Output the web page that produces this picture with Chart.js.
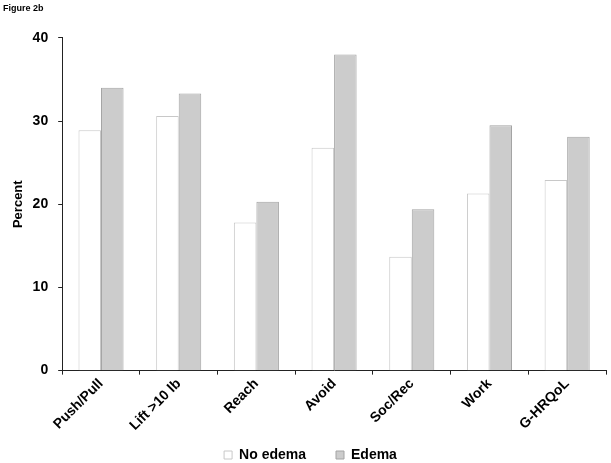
<!DOCTYPE html>
<html>
<head>
<meta charset="utf-8">
<script src="https://cdn.jsdelivr.net/npm/chart.js@4"></script>
<style>
  html, body { margin: 0; padding: 0; background: #fff; }
  #wrap { position: relative; width: 611px; height: 463px; }
</style>
</head>
<body>
<div id="wrap"><canvas id="chart" width="611" height="463"></canvas></div>
<script>
const categories = ["Push/Pull", "Lift >10 lb", "Reach", "Avoid", "Soc/Rec", "Work", "G-HRQoL"]
const noEdema = [28.9, 30.6, 17.8, 26.8, 13.7, 21.3, 22.9]
const edema = [34.0, 33.3, 20.3, 38.0, 19.4, 29.5, 28.1]
const yTicks = [0, 10, 20, 30, 40]

const FONT = "Arial, 'Liberation Sans', sans-serif"

// legend items sit far apart but close under the axis labels:
// keep the wide padding sideways, trim the box height and lift it back up
const LEGEND_PAD = 30
const legendSqueeze = {
  id: 'legendSqueeze',
  beforeInit(chart) {
    const lg = chart.legend
    const fit = lg.fit
    lg.fit = function () {
      fit.call(this)
      this.height = 26
    }
  },
  afterLayout(chart) {
    const lg = chart.legend
    lg.top -= LEGEND_PAD - 13
    lg.left += 6
    lg.right += 6
  }
}

const ctx = document.getElementById('chart')
const myChart = new Chart(ctx, {
  type: 'bar',
  data: {
    labels: categories,
    datasets: [{
      label: "No edema",
      data: noEdema,
      backgroundColor: '#ffffff',
      borderColor: '#c8c8c8',
      borderWidth: 1
    }, {
      label: "Edema",
      data: edema,
      backgroundColor: '#cccccc',
      borderColor: '#a4a4a4',
      borderWidth: 1
    }]
  },
  options: {
    responsive: false,
    animation: false,
    layout: { padding: { left: 3, right: 5, top: 2, bottom: 2 } },
    datasets: {
      bar: { categoryPercentage: 0.58, barPercentage: 1 }
    },
    scales: {
      x: {
        grid: { drawOnChartArea: false, tickLength: 4, color: '#222' },
        border: { color: '#222', width: 1 },
        ticks: {
          color: '#000',
          font: { family: FONT, size: 14, weight: 'bold' },
          maxRotation: 45,
          minRotation: 45,
          padding: 1
        }
      },
      y: {
        min: 0,
        max: 40,
        afterBuildTicks: axis => { axis.ticks = yTicks.map(v => ({ value: v })) },
        afterFit: axis => { axis.width -= 11 },
        grid: { drawOnChartArea: false, tickLength: 4, color: '#222' },
        border: { color: '#222', width: 1 },
        ticks: {
          color: '#000',
          font: { family: FONT, size: 14, weight: 'bold' },
          padding: 10
        },
        title: {
          display: true,
          text: 'Percent',
          color: '#000',
          font: { family: FONT, size: 13, weight: 'bold' },
          padding: { top: 8, bottom: 7 }
        }
      }
    },
    plugins: {
      legend: {
        position: 'bottom',
        labels: {
          color: '#000',
          font: { family: FONT, size: 14, weight: 'bold' },
          boxWidth: 8,
          boxHeight: 8,
          padding: LEGEND_PAD
        }
      },
      title: {
        display: true,
        text: 'Figure 2b',
        align: 'start',
        color: '#000',
        font: { family: FONT, size: 9, weight: 'bold' },
        padding: { top: 1, bottom: 24 }
      },
      tooltip: { enabled: false }
    }
  },
  plugins: [legendSqueeze]
})
</script>
</body>
</html>
